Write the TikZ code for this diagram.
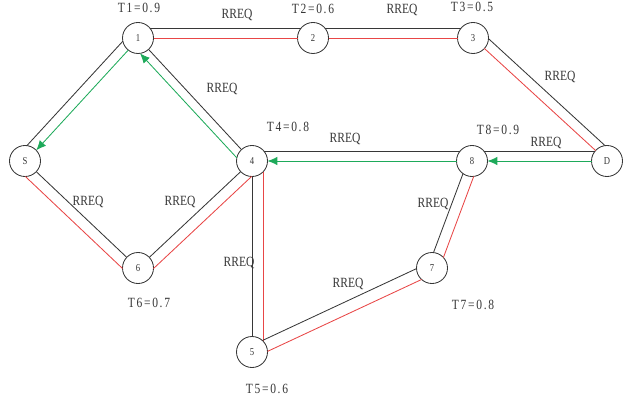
\documentclass[tikz,border=0pt]{standalone}
\usepackage{fontspec}
\setmainfont{Liberation Serif}[FakeStretch=0.82]
\usetikzlibrary{calc,arrows.meta}
\definecolor{linkred}{RGB}{232,70,70}
\definecolor{linkgreen}{RGB}{30,170,90}
\definecolor{linkgray}{RGB}{55,55,55}
\newcommand{\hostrad}{15.5}
\newcommand{\pxlen}{0.025cm}
% one line of a link, offset sideways (px) from the centre line
\newcommand{\trail}[4]{\draw[#4,
    shorten <={sqrt(\hostrad*\hostrad-(#3)*(#3))*\pxlen},
    shorten >={sqrt(\hostrad*\hostrad-(#3)*(#3))*\pxlen}]
    ($(#1)!#3*\pxlen!90:(#2)$) -- ($(#2)!#3*\pxlen!-90:(#1)$);}
\tikzset{
  host/.style={circle, draw=linkgray, fill=white, line width=0.6pt,
    minimum size=0.775cm, inner sep=0pt, text=linkgray,
    font=\fontsize{7.5}{8}\selectfont},
  tag/.style={inner sep=0pt, text=linkgray, font=\fontsize{10}{11}\selectfont},
  trust/.style={tag, font=\fontsize{10}{11}\selectfont\addfontfeature{LetterSpace=12}},
  fwd/.style={linkgray, line width=0.6pt},
  rev/.style={linkred, line width=0.6pt},
  ack/.style={linkgreen, line width=0.6pt, -{Latex[length=7pt,width=6pt]}}
}
\begin{document}
\begin{tikzpicture}[x=0.025cm, y=0.025cm]
            \useasboundingbox (0, 0) rectangle (636, 402);
            % hosts
            \node[host] (n1) at (138, 364) {1};
            \node[host] (n2) at (313, 364) {2};
            \node[host] (n3) at (473, 364) {3};
            \node[host] (s) at (25, 241) {S};
            \node[host] (n4) at (252, 241) {4};
            \node[host] (n8) at (472, 241) {8};
            \node[host] (d) at (607, 241) {D};
            \node[host] (n6) at (138, 134) {6};
            \node[host] (n7) at (432, 134) {7};
            \node[host] (n5) at (252, 50) {5};
            % links
            \trail{n1}{n2}{10}{fwd} \trail{n1}{n2}{0}{rev}
            \trail{n2}{n3}{10}{fwd} \trail{n2}{n3}{0}{rev}
            \trail{n3}{d}{10}{fwd} \trail{n3}{d}{0}{rev}
            \trail{d}{n8}{-10}{fwd} \trail{d}{n8}{0}{ack}
            \trail{n8}{n4}{-10}{fwd} \trail{n8}{n4}{0}{ack}
            \trail{n4}{n1}{0}{fwd} \trail{n4}{n1}{9}{ack}
            \trail{n1}{s}{-9}{fwd} \trail{n1}{s}{1}{ack}
            \trail{s}{n6}{0}{fwd} \trail{s}{n6}{-11}{rev}
            \trail{n6}{n4}{0}{fwd} \trail{n6}{n4}{-11}{rev}
            \trail{n4}{n5}{0}{fwd} \trail{n4}{n5}{11}{rev}
            \trail{n5}{n7}{6}{fwd} \trail{n5}{n7}{-6}{rev}
            \trail{n7}{n8}{4}{fwd} \trail{n7}{n8}{-7}{rev}
            % trust values
            \node[trust] (t1) at (139, 394) {T1=0.9};
            \node[trust] (t2) at (313, 393) {T2=0.6};
            \node[trust] (t3) at (472, 395) {T3=0.5};
            \node[trust] (t4) at (288, 275) {T4=0.8};
            \node[trust] (t8) at (498, 272) {T8=0.9};
            \node[trust] (t6) at (149, 99) {T6=0.7};
            \node[trust] (t5) at (267, 13) {T5=0.6};
            \node[trust] (t7) at (473, 97) {T7=0.8};
            % request labels
            \node[tag] (q12) at (237, 387) {RREQ};
            \node[tag] (q23) at (402, 392) {RREQ};
            \node[tag] (q3d) at (560, 325) {RREQ};
            \node[tag] (q14) at (222, 313) {RREQ};
            \node[tag] (q48) at (345, 263) {RREQ};
            \node[tag] (q8d) at (546, 259) {RREQ};
            \node[tag] (qs6) at (88, 200) {RREQ};
            \node[tag] (q64) at (180, 200) {RREQ};
            \node[tag] (q45) at (239, 139) {RREQ};
            \node[tag] (q57) at (348, 118) {RREQ};
            \node[tag] (q78) at (433, 198) {RREQ};
        \end{tikzpicture}
\end{document}
